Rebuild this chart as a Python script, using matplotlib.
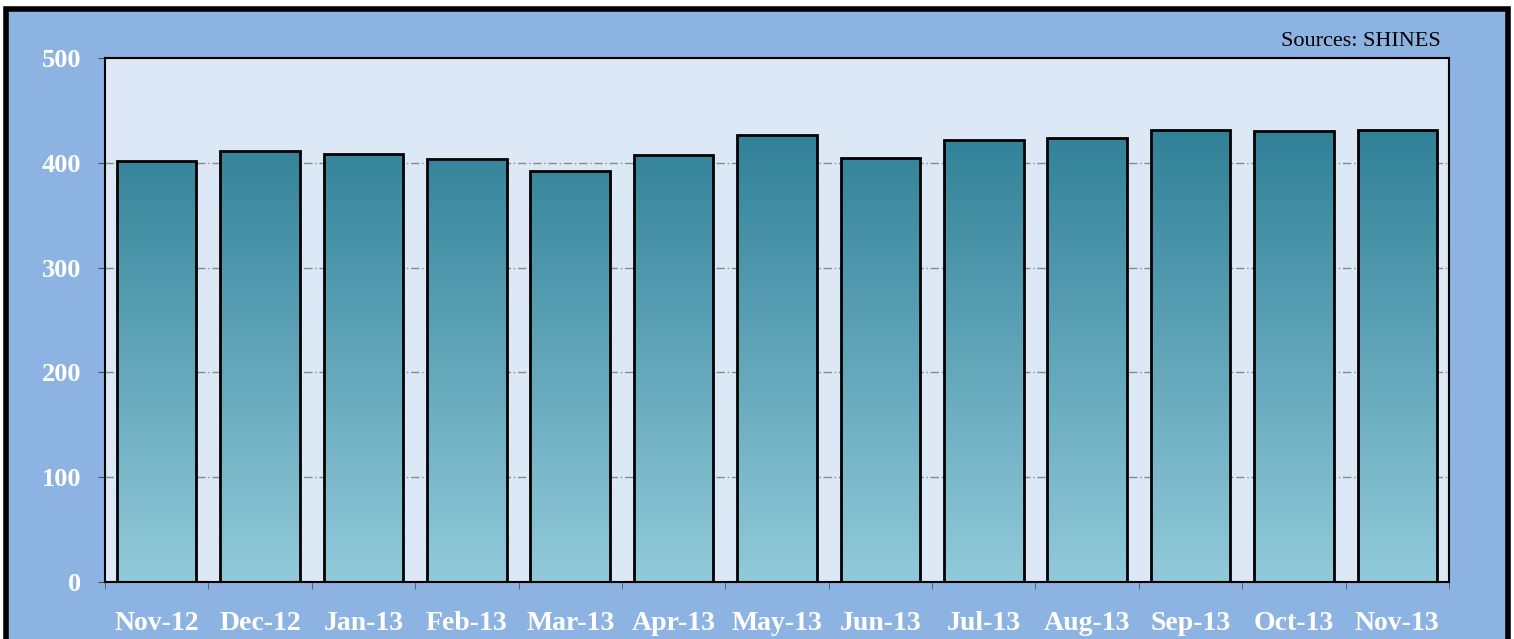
import numpy as np
import matplotlib
matplotlib.use('Agg')
import matplotlib.pyplot as plt
from matplotlib.patches import Rectangle

months = ['Nov-12', 'Dec-12', 'Jan-13', 'Feb-13', 'Mar-13', 'Apr-13', 'May-13',
          'Jun-13', 'Jul-13', 'Aug-13', 'Sep-13', 'Oct-13', 'Nov-13']
values = [402, 411, 408, 404, 392, 407, 427, 405, 422, 424, 431, 430, 431]
y_ticks = [0, 100, 200, 300, 400, 500]

W, H = 1514, 639
fig = plt.figure(figsize=(W / 100, H / 100), dpi=100)
fig.patch.set_facecolor('white')

# blue panel with black frame (bottom edge runs off the image)
fig.patches.append(Rectangle((6 / W, -0.05), 1502 / W, (H - 9) / H + 0.05,
                             transform=fig.transFigure, facecolor='#8DB3E2',
                             edgecolor='black', linewidth=4, zorder=-5))

ax = fig.add_axes([105 / W, 1 - 582 / H, (1449 - 105) / W, (582 - 58) / H])
ax.set_facecolor('#DCE8F6')

x = np.arange(len(months))

# gradient image for bar fill, dark teal at top -> light at bottom
grad = np.linspace(0, 1, 256).reshape(-1, 1)
cmap = matplotlib.colors.LinearSegmentedColormap.from_list('bar', ['#92CADA', '#2E7F96'])

bw = 0.77
for xi, v in zip(x, values):
    bar = ax.bar(xi, v, width=bw, facecolor='none', edgecolor='black',
                 linewidth=2, zorder=3)[0]
    im = ax.imshow(grad, cmap=cmap, aspect='auto', origin='lower',
                   extent=[xi - bw / 2, xi + bw / 2, 0, 440], zorder=2)
    im.set_clip_path(bar)

# imshow resets limits
ax.set_xlim(-0.5, len(months) - 0.5)
ax.set_ylim(0, 500)

for y in y_ticks[1:-1]:
    ax.axhline(y, color='#8A8A8A', linestyle=(0, (6, 2, 1, 2)), linewidth=1, zorder=1)

ax.set_yticks(y_ticks)
ax.set_yticklabels([str(t) for t in y_ticks])
ax.set_xticks(x)
ax.set_xticklabels(months)
ax.set_xticks(np.arange(len(months) + 1) - 0.5, minor=True)
ax.tick_params(axis='x', which='major', length=0, pad=21)
ax.tick_params(axis='x', which='minor', length=5, color='#555555')
ax.tick_params(axis='y', length=5, color='#555555', pad=12)

for lab in ax.get_xticklabels():
    lab.set_family('Liberation Serif')
    lab.set_fontweight('bold')
    lab.set_fontsize(20)
    lab.set_color('white')
for lab in ax.get_yticklabels():
    lab.set_family('Liberation Serif')
    lab.set_fontweight('bold')
    lab.set_fontsize(19)
    lab.set_color('white')

for s in ax.spines.values():
    s.set_color('black')
    s.set_linewidth(1.5)

fig.text(1441 / W, 1 - 41 / H, 'Sources: SHINES', ha='right', va='center',
         family='Liberation Serif', fontsize=16, color='black')

fig.savefig('out.png', dpi=100, facecolor=fig.get_facecolor())
